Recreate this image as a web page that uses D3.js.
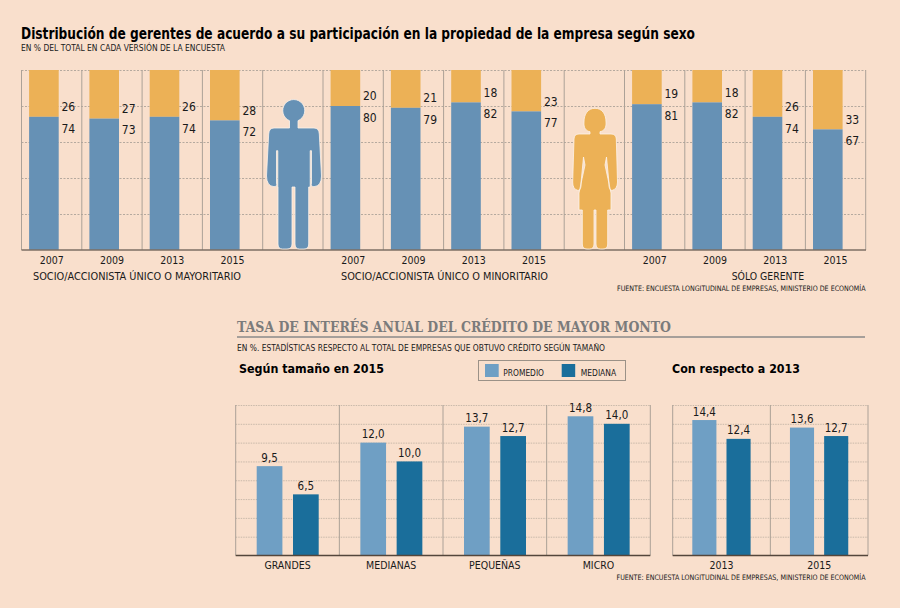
<!DOCTYPE html>
<html>
<head>
<meta charset="utf-8">
<script src="https://d3js.org/d3.v7.min.js"></script>
<style>
    html, body {margin: 0; padding: 0; background: #f9dfcc;}
    svg {display: block;}
    text {font-family: "DejaVu Sans Condensed", "DejaVu Sans", sans-serif; fill: #1a1a1a;}
    .domain {display: none;}
</style>
</head>
<body>
<svg width="900" height="608"></svg>
<script>
var years = ['2007', '2009', '2013', '2015'];
var mayoritario = [74, 73, 74, 72];
var minoritario = [80, 79, 82, 77];
var gerente = [81, 82, 74, 67];
var mayoritarioMujer = [26, 27, 26, 28];
var minoritarioMujer = [20, 21, 18, 23];
var gerenteMujer = [19, 18, 26, 33];
var groupNames = ['SOCIO/ACCIONISTA ÚNICO O MAYORITARIO', 'SOCIO/ACCIONISTA ÚNICO O MINORITARIO', 'SÓLO GERENTE'];

var sizes = ['GRANDES', 'MEDIANAS', 'PEQUEÑAS', 'MICRO'];
var promedio = [9.5, 12.0, 13.7, 14.8];
var mediana = [6.5, 10.0, 12.7, 14.0];
var periods = ['2013', '2015'];
var promedioPeriodo = [14.4, 13.6];
var medianaPeriodo = [12.4, 12.7];

var blue = '#6691b5', gold = '#ecb156', lightBlue = '#6f9fc4', darkBlue = '#1a6e9b';
var comma = d3.format('.1f');
function es(v) { return comma(v).replace('.', ','); }

var svg = d3.select('svg');

function label(x, y, s, size, opts) {
    opts = opts || {};
    var t = svg.append('text')
        .attr('x', x)
        .attr('y', y)
        .attr('dy', '0.35em')
        .attr('text-anchor', opts.anchor || 'start')
        .style('font-size', size + 'px')
        .style('font-weight', opts.bold ? 'bold' : 'normal')
        .style('font-family', opts.family || null)
        .style('fill', opts.fill || null)
        .text(s);
    // squeeze the text to the width it has in the picture
    if (opts.fit) {
        t.attr('textLength', opts.fit).attr('lengthAdjust', 'spacingAndGlyphs');
    }
    return t;
}

// ---- top chart: 14 slots, the two figures sit in slots 4 and 9
var slots = d3.range(14);
var xTop = d3.scaleBand().domain(slots).range([21.5, 865.7]);
var yTop = d3.scaleLinear().domain([0, 100]).range([250, 70]);

var topGrid = svg.append('g')
    .attr('transform', 'translate(21.5,0)')
    .call(d3.axisLeft(yTop).tickValues(d3.range(20, 101, 20)).tickSize(-844.2).tickFormat(''));
topGrid.selectAll('line').attr('stroke', '#b5a99e').attr('stroke-dasharray', '2,1.5');

svg.append('g').selectAll('line')
    .data(d3.range(15))
    .enter()
    .append('line')
    .attr('x1', function(d) { return d === 14 ? 865.7 : xTop(d); })
    .attr('x2', function(d) { return d === 14 ? 865.7 : xTop(d); })
    .attr('y1', 70)
    .attr('y2', 250)
    .attr('stroke', '#aca197')
    .attr('stroke-width', 1);

var topGroups = [
    {start: 0, men: mayoritario, women: mayoritarioMujer, name: groupNames[0]},
    {start: 5, men: minoritario, women: minoritarioMujer, name: groupNames[1]},
    {start: 10, men: gerente, women: gerenteMujer, name: groupNames[2]}
];
var topRows = [];
topGroups.forEach(function(g) {
    years.forEach(function(y, i) {
        topRows.push({slot: g.start + i, year: y, men: g.men[i], women: g.women[i]});
    });
});

var barW = 29.6, barOff = 7.6;
var row = svg.append('g').selectAll('g')
    .data(topRows)
    .enter()
    .append('g');

row.append('rect')
    .attr('x', function(d) { return xTop(d.slot) + barOff; })
    .attr('y', function(d) { return yTop(100); })
    .attr('width', barW)
    .attr('height', function(d) { return yTop(d.men) - yTop(100); })
    .attr('fill', gold);

row.append('rect')
    .attr('x', function(d) { return xTop(d.slot) + barOff; })
    .attr('y', function(d) { return yTop(d.men); })
    .attr('width', barW)
    .attr('height', function(d) { return yTop(0) - yTop(d.men); })
    .attr('fill', blue);

row.append('text')
    .attr('x', function(d) { return xTop(d.slot) + barOff + barW + 2.8; })
    .attr('y', function(d) { return yTop(d.men) - 10; })
    .attr('dy', '0.35em')
    .style('font-size', '12px')
    .text(function(d) { return d.women; });

row.append('text')
    .attr('x', function(d) { return xTop(d.slot) + barOff + barW + 2.8; })
    .attr('y', function(d) { return yTop(d.men) + 11.5; })
    .attr('dy', '0.35em')
    .style('font-size', '12px')
    .text(function(d) { return d.men; });

row.append('text')
    .attr('x', function(d) { return xTop(d.slot) + xTop.bandwidth() / 2; })
    .attr('y', 260.7)
    .attr('dy', '0.35em')
    .attr('text-anchor', 'middle')
    .style('font-size', '10.5px')
    .text(function(d) { return d.year; });

svg.append('line')
    .attr('x1', 21.5).attr('x2', 866)
    .attr('y1', 250).attr('y2', 250)
    .attr('stroke', '#7c6f64')
    .attr('stroke-width', 1.5);

// figures
svg.append('path')
    .attr('d', 'M289.5,120.7A11,11 0 1 1 298,120.7V128H314Q319,128 319.3,134L321.5,176Q321.5,186 314,186.7Q310.5,186.5 311.5,183V150.7H310.2V187L308.7,187V244Q308.7,249 304,249H299.5Q295,249 295,244V187H292V244Q292,249 287,249H282.5Q278,249 278,244V187L277.8,187V150.7H276.5V183Q277.5,186.5 274,186.7Q266.5,186 266.5,176L268.7,134Q269,128 274,128H289.5Z')
    .attr('fill', blue)
    .attr('stroke', '#fdf3ea')
    .attr('stroke-width', 0.8);

svg.append('path')
    .attr('d', 'M595,108.3C602,108.3 606,114 606,122C606.5,128 604,131 600,131.7V134H611Q616,134 616.3,139L617.5,182Q617.5,189 612,190.5Q608.5,190 609,183L606.5,157L605,165L611,193V210H607.7V244Q607.7,249 603,249H600.5Q596,249 596,244V210H594V244Q594,249 589.5,249H587Q582.3,249 582.3,244V210H579V193L585,165L583.5,157L581,183Q581.5,190 578,190.5Q572.5,189 572.7,182L574,139Q574.3,134 579,134H590V131.7C586,131 583.5,128 584,122C584,114 588,108.3 595,108.3Z')
    .attr('fill', gold)
    .attr('stroke', '#fdf3ea')
    .attr('stroke-width', 0.8);

// ---- bottom chart
var yLow = d3.scaleLinear().domain([0, 16]).range([555.5, 405]);

function panel(cats, first, second, left, right, inner0, inner1, pad) {
    var x = d3.scaleBand().domain(cats).range([left, right]);
    var sub = d3.scaleBand().domain([0, 1]).range([inner0, inner1]).paddingInner(pad);

    var grid = svg.append('g')
        .attr('transform', 'translate(' + left + ',0)')
        .call(d3.axisLeft(yLow).tickValues(d3.range(2, 17, 2)).tickSize(-(right - left)).tickFormat(''));
    grid.selectAll('line').attr('stroke', '#c9b9aa').attr('stroke-dasharray', '1.5,1');

    svg.append('g').selectAll('line')
        .data(d3.range(cats.length + 1))
        .enter()
        .append('line')
        .attr('x1', function(d) { return left + d * x.bandwidth(); })
        .attr('x2', function(d) { return left + d * x.bandwidth(); })
        .attr('y1', 405)
        .attr('y2', 555.5)
        .attr('stroke', '#aca197');

    var rows = [];
    cats.forEach(function(c, i) {
        rows.push({cat: c, s: 0, v: first[i]});
        rows.push({cat: c, s: 1, v: second[i]});
    });

    var g = svg.append('g').selectAll('g').data(rows).enter().append('g');
    g.append('rect')
        .attr('x', function(d) { return x(d.cat) + sub(d.s); })
        .attr('y', function(d) { return yLow(d.v); })
        .attr('width', sub.bandwidth())
        .attr('height', function(d) { return yLow(0) - yLow(d.v); })
        .attr('fill', function(d) { return d.s === 0 ? lightBlue : darkBlue; });
    g.append('text')
        .attr('x', function(d) { return x(d.cat) + sub(d.s) + sub.bandwidth() / 2; })
        .attr('y', function(d) { return yLow(d.v) - 8.5; })
        .attr('dy', '0.35em')
        .attr('text-anchor', 'middle')
        .style('font-size', '11.5px')
        .text(function(d) { return es(d.v); });

    var xAxis = svg.append('g')
        .attr('transform', 'translate(0,555.5)')
        .call(d3.axisBottom(x).tickSize(0).tickPadding(6));
    xAxis.selectAll('text')
        .style('font-size', '10.5px')
        .style('font-family', null)
        .attr('dy', '0.71em')
        .attr('fill', null);

    svg.append('line')
        .attr('x1', left).attr('x2', right)
        .attr('y1', 555.5).attr('y2', 555.5)
        .attr('stroke', '#54463b')
        .attr('stroke-width', 1.3);
}

panel(sizes, promedio, mediana, 235.7, 650.3, 21, 83, 0.292);
panel(periods, promedioPeriodo, medianaPeriodo, 672.7, 868, 19.6, 77.9, 0.295);

// ---- legend
svg.append('rect')
    .attr('x', 478.5).attr('y', 360.5).attr('width', 147).attr('height', 20)
    .attr('fill', 'none').attr('stroke', '#9b9187');
svg.append('rect').attr('x', 485).attr('y', 364).attr('width', 13.7).attr('height', 13).attr('fill', lightBlue);
svg.append('rect').attr('x', 561.7).attr('y', 364).attr('width', 13.5).attr('height', 13).attr('fill', darkBlue);
label(503.3, 373.5, 'PROMEDIO', 8.5, {fit: 40.7});
label(580.7, 373.5, 'MEDIANA', 8.5, {fit: 35.5});

// ---- texts
label(21, 34, 'Distribución de gerentes de acuerdo a su participación en la propiedad de la empresa según sexo', 15, {bold: true, fill: '#000', fit: 674});
label(21, 48.5, 'EN % DEL TOTAL EN CADA VERSIÓN DE LA ENCUESTA', 8.5, {fit: 204});
label(33, 276, groupNames[0], 10.8, {fit: 208});
label(341, 276, groupNames[1], 10.8, {fit: 207});
label(731.7, 276, groupNames[2], 10.8, {fit: 72.5});
label(617, 288, 'FUENTE: ENCUESTA LONGITUDINAL DE EMPRESAS, MINISTERIO DE ECONOMÍA', 7.5, {fit: 248.5});

label(237, 327, 'TASA DE INTERÉS ANUAL DEL CRÉDITO DE MAYOR MONTO', 15, {bold: true, fill: '#7b7b7b', family: '"DejaVu Serif", serif', fit: 434});
svg.append('line')
    .attr('x1', 237).attr('x2', 865)
    .attr('y1', 337).attr('y2', 337)
    .attr('stroke', '#8a8a8a')
    .attr('stroke-width', 1.3);
label(237, 347.7, 'EN %. ESTADÍSTICAS RESPECTO AL TOTAL DE EMPRESAS QUE OBTUVO CRÉDITO SEGÚN TAMAÑO', 8.5, {fit: 368});
label(239, 368, 'Según tamaño en 2015', 13, {bold: true, fill: '#000', fit: 145});
label(672, 368, 'Con respecto a 2013', 13, {bold: true, fill: '#000', fit: 128});
label(616.5, 577.7, 'FUENTE: ENCUESTA LONGITUDINAL DE EMPRESAS, MINISTERIO DE ECONOMÍA', 7.5, {fit: 249});
</script>
</body>
</html>
